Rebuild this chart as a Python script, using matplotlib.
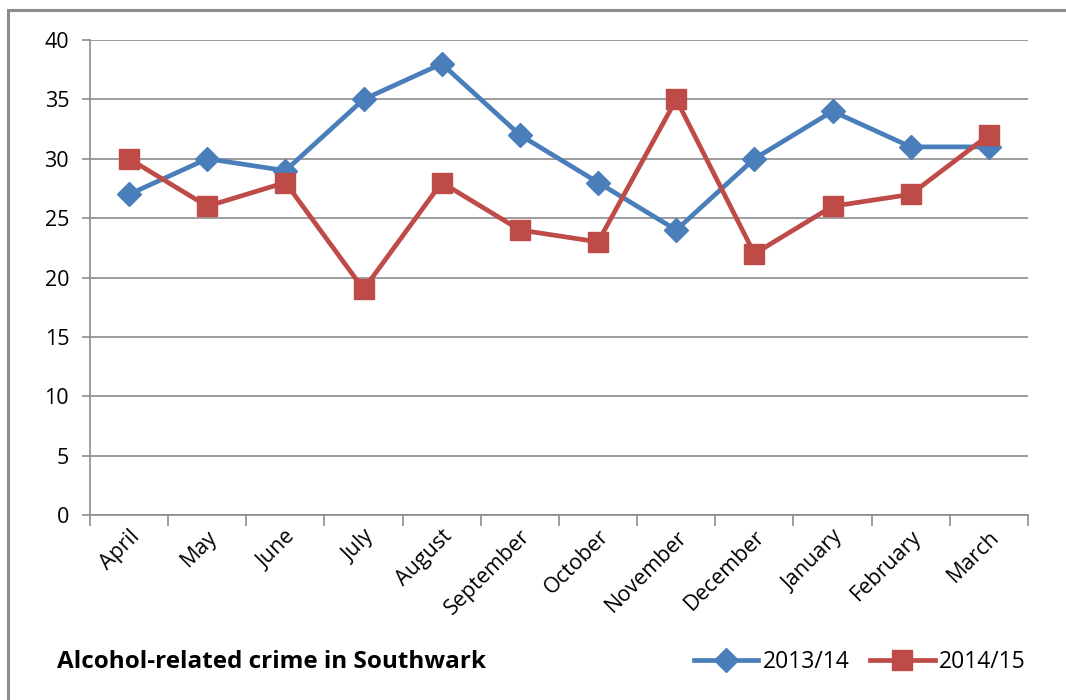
import matplotlib.pyplot as plt
import numpy as np
from matplotlib.patches import Rectangle

# monthly counts, April to March
months = ["April", "May", "June", "July", "August", "September",
          "October", "November", "December", "January", "February", "March"]
crime_2013_14 = [27, 30, 29, 35, 38, 32, 28, 24, 30, 34, 31, 31]
crime_2014_15 = [30, 26, 28, 19, 28, 24, 23, 35, 22, 26, 27, 32]
y_ticks = [0, 5, 10, 15, 20, 25, 30, 35, 40]

plt.rcParams["font.family"] = ["Open Sans", "DejaVu Sans"]

fig = plt.figure(figsize=(10.66, 7.0), dpi=100)
# outer chart frame
fig.patches.append(Rectangle((8 / 1066, -0.1), 1.2, 1 - 10 / 700 + 0.1,
                             transform=fig.transFigure, fill=False,
                             edgecolor="#8c8c8c", linewidth=2.2))

ax = fig.add_axes([90 / 1066, 1 - 515 / 700, 938 / 1066, 475 / 700])

x = np.arange(len(months))
ax.plot(x, crime_2013_14, color="#4A7EBB", linewidth=3.4, marker="D",
        markersize=12, label="2013/14", zorder=3)
ax.plot(x, crime_2014_15, color="#BE4B48", linewidth=3.4, marker="s",
        markersize=15, label="2014/15", zorder=4)

ax.set_xlim(-0.5, len(months) - 0.5)
ax.set_ylim(0, 40)
ax.set_yticks(y_ticks)
ax.tick_params(axis="y", labelsize=15.5, length=6, color="#8c8c8c",
               pad=9, width=1.2)
ax.grid(axis="y", color="#8c8c8c", linewidth=1.2)
ax.set_axisbelow(True)

# category labels centred, tick marks on category boundaries
ax.set_xticks(x)
ax.set_xticklabels(months, rotation=45, ha="right", rotation_mode="anchor",
                   fontsize=15.5)
ax.tick_params(axis="x", length=0, pad=8)
ax.set_xticks(np.arange(-0.5, len(months), 1.0), minor=True)
ax.tick_params(axis="x", which="minor", length=8, color="#8c8c8c", width=1.2)

for side in ["top", "right"]:
    ax.spines[side].set_visible(False)
for side in ["left", "bottom"]:
    ax.spines[side].set_color("#8c8c8c")
    ax.spines[side].set_linewidth(1.2)

fig.text(57 / 1066, 1 - 662 / 700, "Alcohol-related crime in Southwark",
         fontsize=17.5, fontweight="bold", va="center", ha="left")

fig.legend(loc="center right", bbox_to_anchor=(1035 / 1066, 1 - 662 / 700),
           ncol=2, frameon=False, fontsize=16.5, handlelength=2.8,
           columnspacing=0.9, handletextpad=0.2, borderaxespad=0)

plt.savefig("out.png", dpi=100)
